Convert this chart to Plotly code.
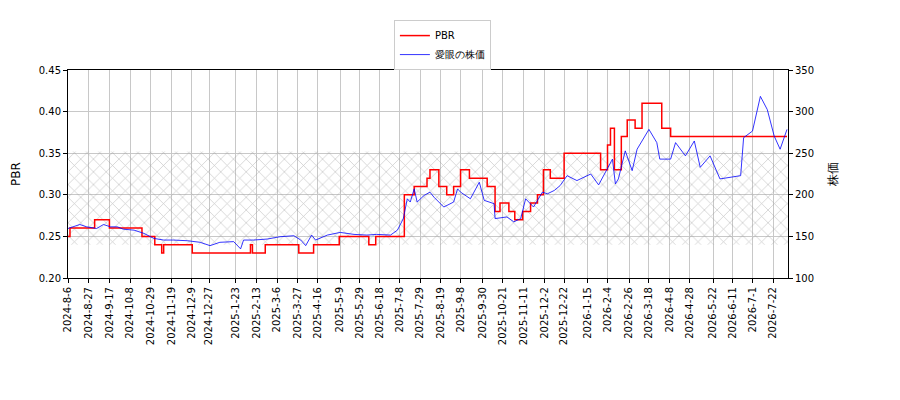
import pandas as pd
import plotly.graph_objects as go

start = pd.Timestamp("2024-08-06")

# PBR change points (day offset from start, value)
pbr_days = [0, 2, 27, 42, 75, 88, 95, 97, 126, 185, 187, 200, 234, 249, 275, 305, 312,
            341, 344, 351, 364, 367, 376, 384, 391, 398, 407, 425, 433, 438, 447, 453,
            461, 469, 476, 482, 489, 503, 540, 547, 550, 554, 561, 567, 575, 582, 602,
            611, 729]
pbr_vals = [0.25, 0.26, 0.27, 0.26, 0.25, 0.24, 0.23, 0.24, 0.23, 0.24, 0.23, 0.24, 0.23,
            0.24, 0.25, 0.24, 0.25, 0.30, 0.30, 0.31, 0.32, 0.33, 0.31, 0.30, 0.31, 0.33,
            0.32, 0.31, 0.28, 0.29, 0.28, 0.27, 0.28, 0.29, 0.30, 0.33, 0.32, 0.35, 0.33,
            0.36, 0.38, 0.33, 0.37, 0.39, 0.38, 0.41, 0.38, 0.37, 0.37]

# share price (day offset, yen)
px_days = [0, 12, 19, 29, 36, 43, 50, 56, 67, 77, 87, 97, 107, 121, 134, 144, 154, 168,
           175, 178, 188, 202, 215, 229, 236, 241, 247, 251, 263, 276, 290, 303, 313,
           327, 334, 340, 344, 347, 351, 354, 361, 367, 371, 381, 391, 395, 398, 408,
           417, 422, 432, 433, 445, 452, 459, 464, 472, 481, 486, 493, 499, 506, 516,
           530, 538, 547, 552, 555, 558, 565, 572, 577, 582, 589, 597, 600, 611, 616,
           626, 635, 641, 651, 661, 682, 685, 694, 702, 709, 716, 722, 729]
px_vals = [159.5, 164.3, 161.5, 159.5, 164.3, 161.5, 161.5, 158.7, 157.5, 153.6, 147.6,
           145.6, 145.6, 144.8, 142.9, 138.9, 142.9, 143.7, 135.0, 145.6, 145.6, 146.8,
           149.6, 150.8, 145.6, 138.9, 151.6, 145.6, 151.6, 154.8, 152.4, 151.6, 152.4,
           151.6, 157.5, 171.4, 195.2, 191.3, 207.1, 191.3, 199.2, 203.2, 197.2, 185.3,
           191.3, 207.1, 203.2, 195.2, 215.1, 193.3, 189.3, 171.4, 173.4, 167.5, 171.4,
           195.2, 185.3, 203.2, 201.2, 205.2, 211.1, 223.0, 217.1, 225.0, 211.9, 230.9,
           242.9, 213.1, 219.1, 252.8, 229.0, 254.8, 264.7, 278.6, 262.7, 242.9, 242.9,
           262.7, 246.8, 264.7, 233.0, 246.8, 219.1, 223.0, 268.7, 276.6, 318.3, 302.4,
           270.6, 254.8, 278.6]

tick_dates = ["2024-08-06", "2024-08-27", "2024-09-17", "2024-10-08", "2024-10-29",
              "2024-11-19", "2024-12-09", "2024-12-27", "2025-01-23", "2025-02-13",
              "2025-03-06", "2025-03-27", "2025-04-16", "2025-05-09", "2025-05-29",
              "2025-06-18", "2025-07-08", "2025-07-29", "2025-08-19", "2025-09-08",
              "2025-09-30", "2025-10-21", "2025-11-11", "2025-12-02", "2025-12-22",
              "2026-01-15", "2026-02-04", "2026-02-26", "2026-03-18", "2026-04-08",
              "2026-04-28", "2026-05-22", "2026-06-11", "2026-07-01", "2026-07-22"]

band_low, band_high = 0.24, 0.352

pbr_x = [start + pd.Timedelta(days=d) for d in pbr_days]
px_x = [start + pd.Timedelta(days=d) for d in px_days]
x0, x1 = start, start + pd.Timedelta(days=730)

ticks = pd.to_datetime(tick_dates)
ticktext = [f"{t.year}-{t.month}-{t.day}" for t in ticks]

fig = go.Figure()
fig.add_trace(go.Scatter(
    x=[x0, x1, x1, x0, x0], y=[band_low, band_low, band_high, band_high, band_low],
    fill="toself", mode="lines", line=dict(width=0), fillcolor="rgba(0,0,0,0)",
    fillpattern=dict(shape="x", fgcolor="#909090", bgcolor="rgba(0,0,0,0)", size=9, solidity=0.15),
    showlegend=False, hoverinfo="skip"))
fig.add_trace(go.Scatter(x=pbr_x, y=pbr_vals, name="PBR", mode="lines",
                         line=dict(color="red", width=1.5, shape="hv")))
fig.add_trace(go.Scatter(x=px_x, y=px_vals, name="愛眼の株価", mode="lines", yaxis="y2",
                         line=dict(color="blue", width=0.8)))

axis_common = dict(showline=True, linecolor="black", ticks="outside", tickcolor="black",
                   ticklen=4, zeroline=False, automargin=False)
fig.update_layout(
    width=900, height=400, plot_bgcolor="white", paper_bgcolor="white",
    margin=dict(l=60, r=120, t=60, b=130),
    font=dict(family="DejaVu Sans", size=10, color="black"),
    xaxis=dict(range=[x0, x1], tickvals=ticks, ticktext=ticktext, tickangle=-90,
               showgrid=True, gridcolor="#c8c8c8", mirror=True, **axis_common),
    yaxis=dict(range=[0.2, 0.45], dtick=0.05, tickformat=".2f", title=dict(text="PBR"),
               showgrid=True, gridcolor="#c8c8c8", mirror=True, **axis_common),
    yaxis2=dict(range=[100, 350], dtick=50, overlaying="y", side="right",
                title=dict(text="株価"), showgrid=False, **axis_common),
    legend=dict(x=0.52, y=1.24, xanchor="center", yanchor="top",
                bordercolor="#cccccc", borderwidth=1, bgcolor="white"),
)
fig.write_html("out.html")
